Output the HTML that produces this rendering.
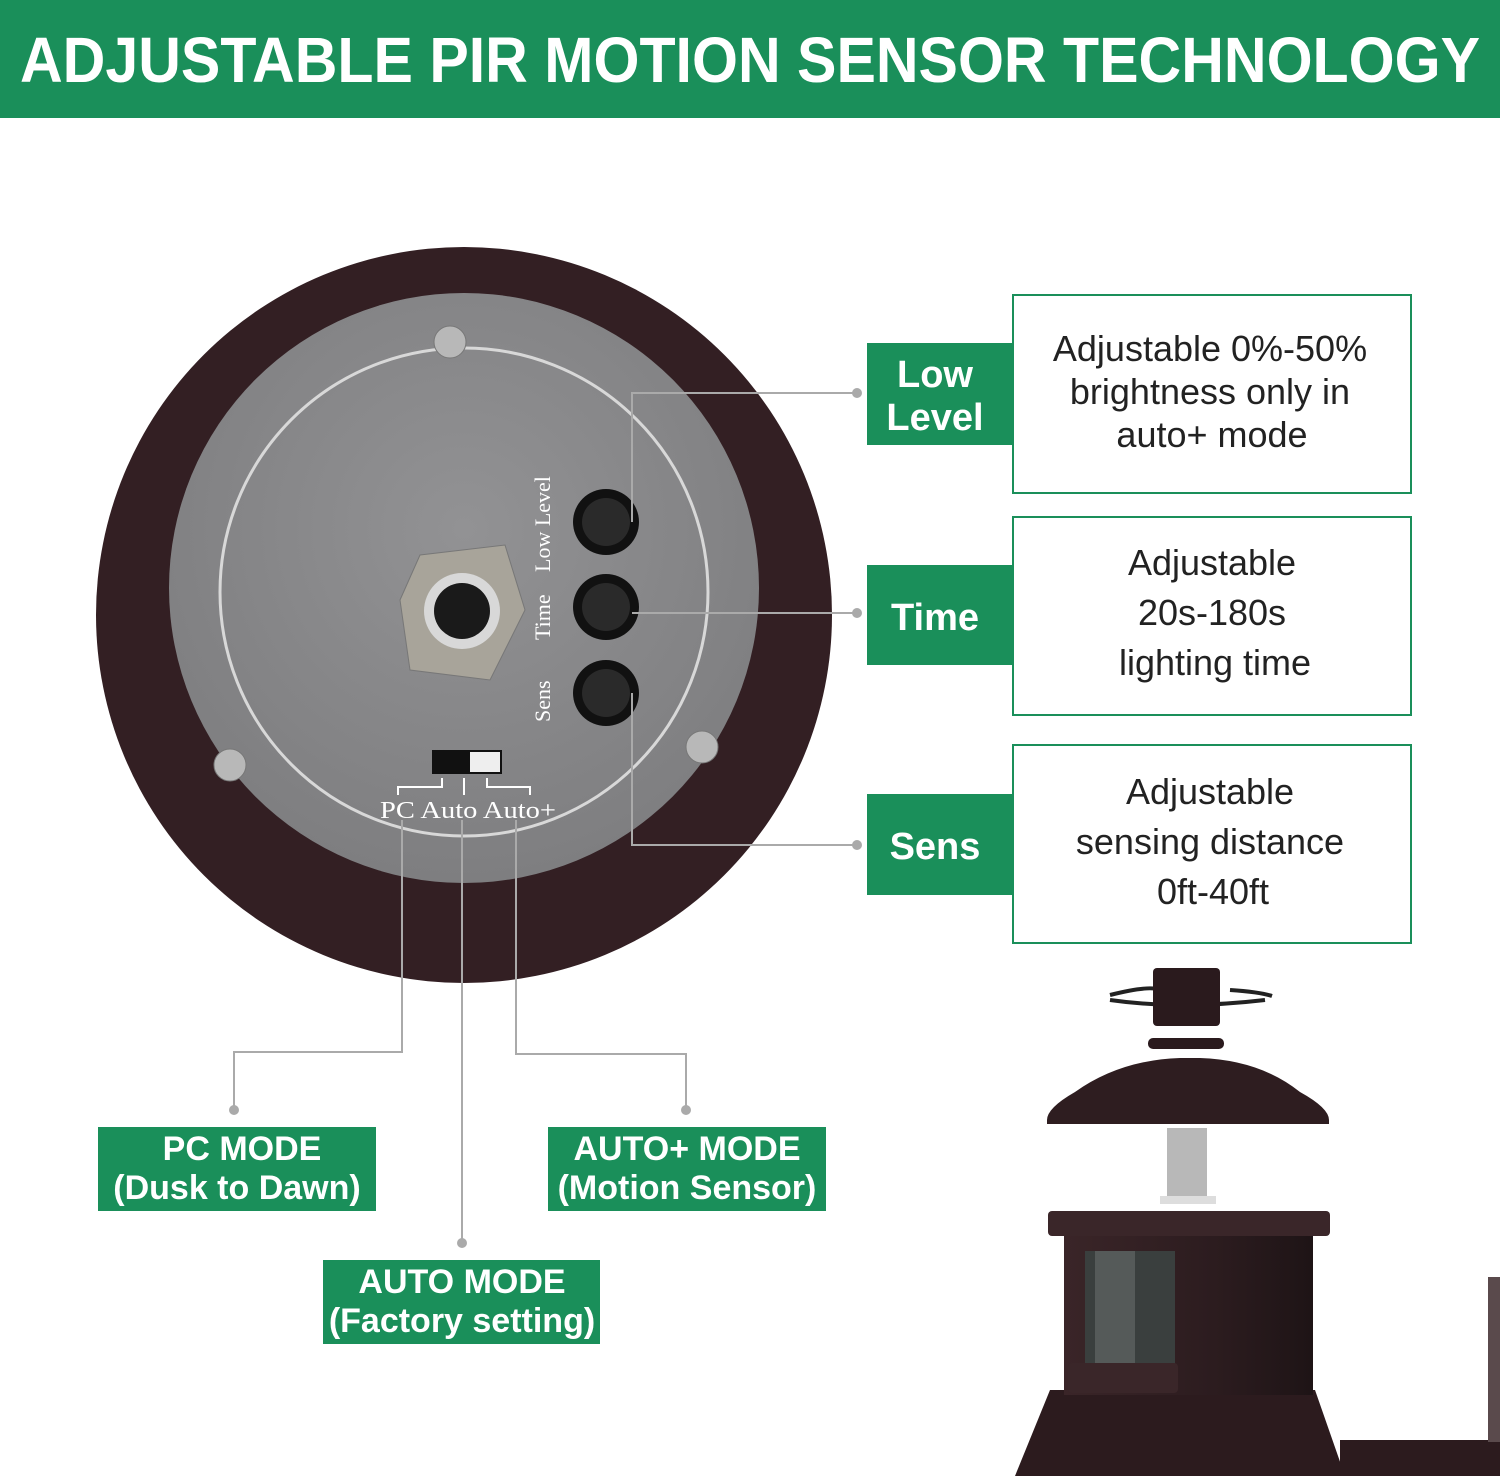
<!DOCTYPE html>
<html><head><meta charset="utf-8"><style>
body{margin:0;background:#fff}
svg{display:block}
.h{font-family:"Liberation Sans",sans-serif;font-weight:bold;fill:#fff}
.b{font-family:"Liberation Sans",sans-serif;fill:#222}
.s{font-family:"Liberation Serif",serif;fill:#fff}
</style></head><body>
<svg width="1500" height="1476" viewBox="0 0 1500 1476">
<defs>
<radialGradient id="gr" cx="50%" cy="40%" r="60%"><stop offset="0" stop-color="#929294"/><stop offset="1" stop-color="#7e7e80"/></radialGradient>
<linearGradient id="cyl" x1="0" x2="1"><stop offset="0" stop-color="#3a2528"/><stop offset="0.6" stop-color="#2c1c1f"/><stop offset="1" stop-color="#1e1416"/></linearGradient>
</defs>
<rect x="0" y="0" width="1500" height="118" fill="#1a8f5a"/>
<text x="750" y="82" text-anchor="middle" class="h" font-size="64" textLength="1460" lengthAdjust="spacingAndGlyphs">ADJUSTABLE PIR MOTION SENSOR TECHNOLOGY</text>

<circle cx="464" cy="615" r="368" fill="#331f23"/>
<circle cx="464" cy="588" r="295" fill="url(#gr)"/>
<circle cx="464" cy="592" r="244" fill="none" stroke="#d8d8d8" stroke-width="3"/>
<circle cx="450" cy="342" r="16" fill="#b8b8b8" stroke="#777"/>
<circle cx="230" cy="765" r="16" fill="#b8b8b8" stroke="#777"/>
<circle cx="702" cy="747" r="16" fill="#b8b8b8" stroke="#777"/>
<polygon points="420,555 505,545 525,610 490,680 410,670 400,600" fill="#a8a49a" stroke="#777"/>
<circle cx="462" cy="611" r="38" fill="#d8d8d8"/>
<circle cx="462" cy="611" r="28" fill="#1a1a1a"/>
<circle cx="606" cy="522" r="33" fill="#111"/><circle cx="606" cy="522" r="24" fill="#2a2a2a"/>
<circle cx="606" cy="607" r="33" fill="#111"/><circle cx="606" cy="607" r="24" fill="#2a2a2a"/>
<circle cx="606" cy="693" r="33" fill="#111"/><circle cx="606" cy="693" r="24" fill="#2a2a2a"/>
<g class="s" font-size="22">
<text transform="translate(550,572) rotate(-90)">Low Level</text>
<text transform="translate(550,640) rotate(-90)">Time</text>
<text transform="translate(550,722) rotate(-90)">Sens</text>
<text x="380" y="818" font-size="24" textLength="176" lengthAdjust="spacingAndGlyphs">PC Auto Auto+</text>
</g>
<rect x="432" y="750" width="70" height="24" fill="#111"/>
<rect x="470" y="752" width="30" height="20" fill="#eee"/>
<path d="M398 795V787H442V778M464 795V778M487 778V787H530V795" stroke="#fff" stroke-width="2" fill="none"/>

<g stroke="#aaa" stroke-width="2" fill="none">
<path d="M632 522V393H857"/>
<path d="M632 613H857"/>
<path d="M632 693V845H857"/>
<path d="M402 820V1052H234V1110"/>
<path d="M462 820V1243"/>
<path d="M516 820V1054H686V1110"/>
</g>
<g fill="#aaa"><circle cx="857" cy="393" r="5"/><circle cx="857" cy="613" r="5"/><circle cx="857" cy="845" r="5"/><circle cx="234" cy="1110" r="5"/><circle cx="462" cy="1243" r="5"/><circle cx="686" cy="1110" r="5"/></g>

<g fill="#1a8f5a">
<rect x="867" y="343" width="146" height="102"/>
<rect x="867" y="565" width="146" height="100"/>
<rect x="867" y="794" width="146" height="101"/>
</g>
<g fill="none" stroke="#1a8f5a" stroke-width="2">
<rect x="1013" y="295" width="398" height="198"/>
<rect x="1013" y="517" width="398" height="198"/>
<rect x="1013" y="745" width="398" height="198"/>
</g>
<g class="h" font-size="38" text-anchor="middle">
<text x="935" y="387">Low</text><text x="935" y="430">Level</text>
<text x="935" y="630">Time</text>
<text x="935" y="859">Sens</text>
</g>
<g class="b" font-size="36" text-anchor="middle">
<text x="1210" y="361">Adjustable 0%-50%</text>
<text x="1210" y="404">brightness only in</text>
<text x="1212" y="447">auto+ mode</text>
<text x="1212" y="575">Adjustable</text>
<text x="1212" y="625">20s-180s</text>
<text x="1215" y="675">lighting time</text>
<text x="1210" y="804">Adjustable</text>
<text x="1210" y="854">sensing distance</text>
<text x="1213" y="904">0ft-40ft</text>
</g>

<g fill="#1a8f5a">
<rect x="98" y="1127" width="278" height="84"/>
<rect x="548" y="1127" width="278" height="84"/>
<rect x="323" y="1260" width="277" height="84"/>
</g>
<g class="h" font-size="34" text-anchor="middle">
<text x="242" y="1160">PC MODE</text><text x="237" y="1199">(Dusk to Dawn)</text>
<text x="687" y="1160">AUTO+ MODE</text><text x="687" y="1199">(Motion Sensor)</text>
<text x="462" y="1293">AUTO MODE</text><text x="462" y="1332">(Factory setting)</text>
</g>

<path d="M1110 995 Q1150 985 1160 990 M1230 990 Q1260 992 1272 996 M1110 1000 Q1180 1010 1265 1000" stroke="#222" stroke-width="4" fill="none"/>
<rect x="1153" y="968" width="67" height="58" rx="4" fill="#2a1a1d"/>
<rect x="1148" y="1038" width="76" height="11" rx="5" fill="#2a1a1d"/>
<path d="M1047 1120 Q1047 1108 1075 1092 Q1120 1060 1180 1058 L1200 1058 Q1260 1060 1300 1092 Q1329 1108 1329 1120 L1329 1124 L1047 1124 Z" fill="#2e1d20"/>
<rect x="1167" y="1128" width="40" height="70" fill="#b8b8b8"/>
<rect x="1160" y="1196" width="56" height="8" fill="#ddd"/>
<path d="M1050 1390 L1315 1390 L1345 1476 L1015 1476 Z" fill="#2c1b1e"/>
<rect x="1340" y="1440" width="160" height="36" fill="#2c1b1e"/>
<rect x="1488" y="1277" width="12" height="165" fill="#5a4a4c"/>
<rect x="1064" y="1236" width="249" height="159" fill="url(#cyl)"/>
<rect x="1085" y="1251" width="90" height="117" fill="#3a3f3e"/>
<rect x="1095" y="1251" width="40" height="117" fill="#555a59"/>
<rect x="1048" y="1211" width="282" height="25" rx="4" fill="#3a2629"/>
<rect x="1068" y="1363" width="110" height="30" rx="4" fill="#3a2629"/>
</svg>
</body></html>
